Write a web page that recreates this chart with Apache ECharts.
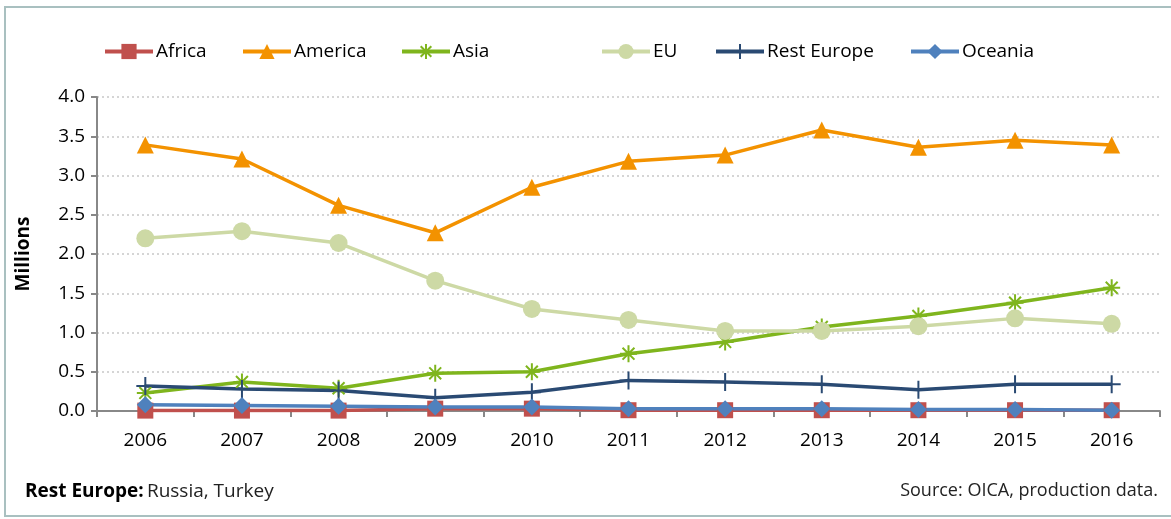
<!DOCTYPE html>
<html><head><meta charset="utf-8">
<script src="https://cdn.jsdelivr.net/npm/echarts@6/dist/echarts.min.js"></script>
<style>
html,body{margin:0;padding:0;background:#fff;}
#frame{position:absolute;left:4px;top:6px;width:1175px;height:511px;border:2px solid #a9c0c0;box-sizing:border-box;}
#c{position:absolute;left:0;top:0;width:1171px;height:519px;}
</style></head><body>
<div id="frame"></div>
<div id="c"></div>
<script>
const years = ['2006','2007','2008','2009','2010','2011','2012','2013','2014','2015','2016'];
const africa = [0.005,0.005,0.005,0.03,0.03,0.01,0.01,0.01,0.01,0.01,0.01];
const america = [3.39,3.21,2.62,2.27,2.85,3.18,3.26,3.58,3.36,3.45,3.39];
const asia = [0.23,0.37,0.29,0.48,0.50,0.73,0.88,1.07,1.21,1.38,1.57];
const eu = [2.20,2.29,2.14,1.66,1.30,1.16,1.02,1.02,1.08,1.18,1.11];
const restEurope = [0.32,0.28,0.26,0.17,0.24,0.39,0.37,0.34,0.27,0.34,0.34];
const oceania = [0.08,0.07,0.06,0.05,0.05,0.03,0.03,0.03,0.02,0.02,0.01];
const seriesNames = ['Africa','America','Asia','EU','Rest Europe','Oceania'];

const FONT = '"Open Sans",sans-serif';
const chart = echarts.init(document.getElementById('c'));
function s(name, data, color, symbol, size, extra) {
  return Object.assign({
    name, type: 'line', data, symbol, symbolSize: size,
    lineStyle: {color, width: 3.5}, itemStyle: {color},
    animation: false
  }, extra || {});
}
const legendLefts = [98, 236, 395, 595, 709, 904];
const legends = seriesNames.map((n, i) => ({
  top: 37, left: legendLefts[i], itemWidth: 48, itemHeight: 19, itemGap: 0,
  lineStyle: {width: 4},
  textStyle: {fontSize: 19, color: '#000', fontFamily: FONT, padding: [0, 0, 0, -2]},
  data: [n]
}));
chart.setOption({
  animation: false,
  textStyle: {fontFamily: FONT},
  legend: legends,
  grid: {left: 97, right: 11, top: 97, bottom: 108, containLabel: false},
  xAxis: {
    type: 'category', data: years, boundaryGap: true,
    axisLine: {lineStyle: {color: '#888', width: 2}},
    axisTick: {show: true, length: 6, lineStyle: {color: '#888', width: 2}},
    axisLabel: {fontSize: 19, color: '#000', margin: 20, fontFamily: FONT}
  },
  yAxis: {
    type: 'value', min: 0, max: 4, interval: 0.5,
    name: 'Millions', nameLocation: 'middle', nameGap: 64, nameRotate: 90,
    nameTextStyle: {fontSize: 19, fontWeight: 'bold', color: '#000', fontFamily: FONT},
    axisLine: {show: true, lineStyle: {color: '#888', width: 2}},
    axisTick: {show: true, length: 6, lineStyle: {color: '#888', width: 2}},
    axisLabel: {fontSize: 19, color: '#000', margin: 12, fontFamily: FONT,
      formatter: v => v.toFixed(1)},
    splitLine: {lineStyle: {color: '#c8c8c8', type: [2, 3], width: 1.5}}
  },
  series: [
    s('Africa', africa, '#c0504d', 'rect', 16),
    s('America', america, '#f39200', 'triangle', 17),
    s('Asia', asia, '#7fb51d', 'path://M0,-10L0,10M-10,0L10,0M-7,-7L7,7M-7,7L7,-7', 17,
      {itemStyle: {color: '#7fb51d', borderColor: '#7fb51d', borderWidth: 2}}),
    s('EU', eu, '#cdd9a5', 'circle', 18),
    s('Rest Europe', restEurope, '#2a4a73', 'path://M0,-10L0,10M-8,0L8,0', 18,
      {itemStyle: {color: '#2a4a73', borderColor: '#2a4a73', borderWidth: 2}}),
    s('Oceania', oceania, '#4f81bd', 'diamond', 17)
  ],
  graphic: [
    {type: 'text', left: 25, top: 482, style: {
      rich: {b: {fontSize: 19, fontWeight: 'bold', fontFamily: FONT, fill: '#000'},
             n: {fontSize: 19, fontFamily: FONT, fill: '#222'}},
      text: '{b|Rest Europe:} {n|Russia, Turkey}'}},
    {type: 'text', right: 13, top: 482, style: {
      text: 'Source: OICA, production data.', fontSize: 18, fontFamily: FONT, fill: '#222'}}
  ]
});
</script>
</body></html>
